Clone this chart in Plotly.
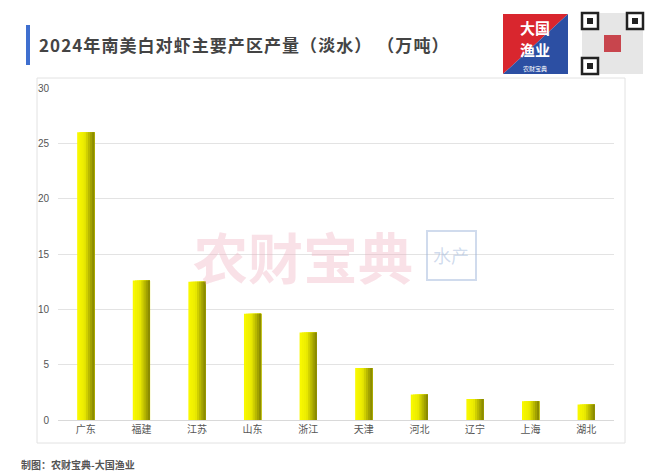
import plotly.graph_objects as go

categories = ["广东", "福建", "江苏", "山东", "浙江", "天津", "河北", "辽宁", "上海", "湖北"]
values = [26.0, 12.6, 12.5, 9.6, 7.9, 4.7, 2.3, 1.9, 1.7, 1.4]
y_ticks = [0, 5, 10, 15, 20, 25, 30]

title_text = "2024年南美白对虾主要产区产量（淡水） （万吨）"
credit_text = "制图：农财宝典-大国渔业"
watermark_text = "农财宝典"

fig = go.Figure()

# gradient bars simulated by overlapping slices
n_slices = 8
bar_w = 0.31
step = bar_w / n_slices
c_left = (248, 248, 0)
c_mid = (236, 236, 0)
c_right = (140, 140, 0)
for i in range(n_slices):
    t = i / (n_slices - 1)
    if t < 0.4:
        u = t / 0.4
        c = tuple(int(c_left[k] + (c_mid[k] - c_left[k]) * u) for k in range(3))
    else:
        u = (t - 0.4) / 0.6
        c = tuple(int(c_mid[k] + (c_right[k] - c_mid[k]) * u) for k in range(3))
    w = bar_w - i * step
    fig.add_trace(go.Bar(
        x=categories, y=values,
        width=w,
        offset=-bar_w / 2 + i * step,
        marker=dict(color=f"rgb{c}", line=dict(width=0)),
        showlegend=False, hoverinfo="skip" if i else None,
    ))

fig.update_layout(
    width=660, height=476,
    margin=dict(l=58, r=46, t=88, b=56),
    paper_bgcolor="white", plot_bgcolor="white",
    barmode="overlay",
    font=dict(family="Noto Sans CJK SC, Liberation Sans, sans-serif", size=10, color="#555"),
    xaxis=dict(showgrid=False, showline=True, linecolor="#d9d9d9", linewidth=1,
               tickfont=dict(size=10, color="#555"), ticks="", fixedrange=True),
    yaxis=dict(range=[0, 30], tickvals=y_ticks, showgrid=True, gridcolor="#e3e3e3",
               gridwidth=1, zeroline=False, showline=False,
               ticks="outside", ticklen=6, tickcolor="rgba(0,0,0,0)",
               tickfont=dict(family="Liberation Sans, Arial", size=10, color="#555")),
)


def px(x):
    return (x - 58) / 556


def py(y):
    return (420 - y) / 332


shapes = []
# panel border
shapes.append(dict(type="rect", xref="paper", yref="paper",
                   x0=px(37), x1=px(625), y0=py(443), y1=py(78),
                   line=dict(color="#e2e2e2", width=1), fillcolor="rgba(0,0,0,0)", layer="below"))
# title accent bar
shapes.append(dict(type="rect", xref="paper", yref="paper",
                   x0=px(26), x1=px(30), y0=py(65), y1=py(25),
                   line=dict(width=0), fillcolor="#3f6fcf"))
# logo: red/blue diagonal square
lx0, lx1, ly0, ly1 = 503, 568, 14, 74
shapes.append(dict(type="path", xref="paper", yref="paper",
                   path=f"M {px(lx0)},{py(ly0)} L {px(lx1)},{py(ly0)} L {px(lx0)},{py(ly1)} Z",
                   line=dict(width=0), fillcolor="#d9262e"))
shapes.append(dict(type="path", xref="paper", yref="paper",
                   path=f"M {px(lx1)},{py(ly0)} L {px(lx1)},{py(ly1)} L {px(lx0)},{py(ly1)} Z",
                   line=dict(width=0), fillcolor="#2c4fa3"))
# QR code approximation: finder patterns
qx0, qx1, qy0, qy1 = 582, 643, 13, 74
shapes.append(dict(type="rect", xref="paper", yref="paper",
                   x0=px(qx0), x1=px(qx1), y0=py(qy1), y1=py(qy0),
                   line=dict(width=0), fillcolor="#e6e6e6"))
for fx, fy in [(qx0, qy0), (qx1 - 16, qy0), (qx0, qy1 - 16)]:
    shapes.append(dict(type="rect", xref="paper", yref="paper",
                       x0=px(fx), x1=px(fx + 16), y0=py(fy + 16), y1=py(fy),
                       line=dict(color="#222", width=2.5), fillcolor="white"))
    shapes.append(dict(type="rect", xref="paper", yref="paper",
                       x0=px(fx + 5), x1=px(fx + 11), y0=py(fy + 11), y1=py(fy + 5),
                       line=dict(width=0), fillcolor="#222"))
shapes.append(dict(type="rect", xref="paper", yref="paper",
                   x0=px(604), x1=px(621), y0=py(52), y1=py(35),
                   line=dict(width=0), fillcolor="#c8454d"))
# watermark icon outline
shapes.append(dict(type="rect", xref="paper", yref="paper",
                   x0=px(427), x1=px(476), y0=py(280), y1=py(231),
                   line=dict(color="rgba(150,175,215,0.45)", width=2), fillcolor="rgba(0,0,0,0)"))
fig.update_layout(shapes=shapes)

spaced_title = "\u200a".join(title_text)
ann = []
ann.append(dict(text=f"<b>{spaced_title}</b>", xref="paper", yref="paper",
                x=px(37), y=py(45), xanchor="left", yanchor="middle", showarrow=False,
                font=dict(size=17, color="#444", family="Noto Sans CJK SC")))
ann.append(dict(text=f"<b>{watermark_text}</b>", xref="paper", yref="paper",
                x=px(303), y=py(255), xanchor="center", yanchor="middle", showarrow=False,
                font=dict(size=55, color="rgba(238,170,185,0.35)", family="Noto Sans CJK SC")))
ann.append(dict(text="水产", xref="paper", yref="paper",
                x=px(451), y=py(255), xanchor="center", yanchor="middle", showarrow=False,
                font=dict(size=18, color="rgba(150,175,215,0.45)", family="Noto Sans CJK SC")))
ann.append(dict(text=f"<b>{credit_text}</b>", xref="paper", yref="paper",
                x=px(19), y=py(465), xanchor="left", yanchor="middle", showarrow=False,
                font=dict(size=10, color="#555", family="Noto Sans CJK SC")))
ann.append(dict(text="<b>大国</b>", xref="paper", yref="paper",
                x=px(535), y=py(28), xanchor="center", yanchor="middle", showarrow=False,
                borderpad=0, font=dict(size=15, color="white", family="Noto Sans CJK SC")))
ann.append(dict(text="<b>渔业</b>", xref="paper", yref="paper",
                x=px(535), y=py(50), xanchor="center", yanchor="middle", showarrow=False,
                borderpad=0, font=dict(size=15, color="white", family="Noto Sans CJK SC")))
ann.append(dict(text="农财宝典", xref="paper", yref="paper",
                x=px(535), y=py(68.5), xanchor="center", yanchor="middle", showarrow=False,
                borderpad=0, font=dict(size=6, color="white", family="Noto Sans CJK SC")))
fig.update_layout(annotations=ann)

fig.write_html("out.html")
